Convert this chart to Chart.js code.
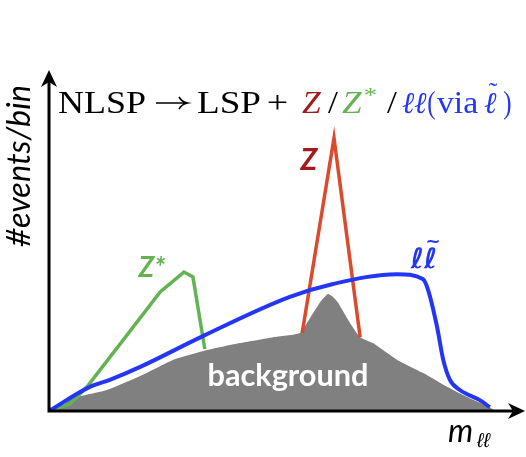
<!DOCTYPE html>
<html>
<head>
<meta charset="utf-8">
<script src="https://cdn.jsdelivr.net/npm/chart.js"></script>
<style>
  body { margin: 0; background: #fff; }
  canvas { display: block; }
</style>
</head>
<body>
<canvas id="chart" width="526" height="457"></canvas>
<script>
// schematic shapes, x = m_ll (arbitrary units 0-100), y = events/bin (0-100)
const bgX = [0, 2.3, 5.1, 12.2, 19.2, 26.1, 33.3, 40.2, 47.2, 52.8, 55.6, 57.1, 58.7, 59.8, 60.8, 63.4, 65.5, 68.2, 73.3, 78.7, 83.8, 88, 92.8, 93.9];
const bgY = [0, 1.1, 3.7, 6, 10, 14.6, 17.4, 19.4, 21.1, 22.3, 28, 31.1, 33.4, 32.6, 31.1, 25.1, 21.1, 19.4, 14.6, 10.9, 6.9, 4, 1.1, 0];

const zStarX = [0, 4.4, 8, 17.1, 23.4, 28.4, 30.3, 32.8];
const zStarY = [0, 2, 6.9, 22.9, 34, 39.7, 38.3, 17.7];

const zX = [53.3, 60, 65.5];
const zY = [22.3, 78, 21.1];

const llX = [0, 8.6, 12.8, 19.2, 32.4, 50.7, 59.8, 73.3, 78.7, 79.8, 81.7, 83, 84.4, 86.5, 90.7, 92.8];
const llY = [0, 6.9, 8.9, 12.6, 21.4, 32.6, 36.3, 39.1, 37.7, 34.6, 24, 14.6, 8.9, 6, 3.1, 1.1];

const RED = '#a31a1a';
const RED_LINE = '#dc4a2e';
const GREEN = '#63b352';
const BLUE = '#2336f5';

const pts = (xs, ys) => xs.map((v, i) => ({ x: v, y: ys[i] }));

// fit a label to a given width by scaling the font size
function fitFont(ctx, text, style, family, width) {
  ctx.font = `${style} 20px ${family}`;
  const size = 20 * width / ctx.measureText(text).width;
  return `${style} ${size.toFixed(1)}px ${family}`;
}

// draw text so its ink spans x0..x1 (stretched horizontally only)
function spanText(ctx, text, x0, x1, baseY) {
  const m = ctx.measureText(text);
  const ink = m.actualBoundingBoxLeft + m.actualBoundingBoxRight;
  ctx.save();
  ctx.translate(x0, baseY);
  ctx.scale((x1 - x0) / ink, 1);
  ctx.fillText(text, m.actualBoundingBoxLeft, 0);
  ctx.restore();
}

function arrowHead(ctx, tx, ty, dx, dy) {
  // stealth style head pointing along (dx, dy)
  const len = 17, half = 8, notch = 5;
  const px = -dy, py = dx;
  ctx.beginPath();
  ctx.moveTo(tx, ty);
  ctx.lineTo(tx - dx * len + px * half, ty - dy * len + py * half);
  ctx.lineTo(tx - dx * (len - notch), ty - dy * (len - notch));
  ctx.lineTo(tx - dx * len - px * half, ty - dy * len - py * half);
  ctx.closePath();
  ctx.fill();
}

const decor = {
  id: 'decor',
  afterDraw(chart) {
    const { ctx, scales: { x, y } } = chart;
    const ox = x.getPixelForValue(0);
    const oy = y.getPixelForValue(0);
    ctx.save();

    // axes with arrows
    ctx.strokeStyle = '#000';
    ctx.fillStyle = '#000';
    ctx.lineWidth = 3;
    ctx.beginPath();
    ctx.moveTo(ox, oy + 1.5);
    ctx.lineTo(ox, 82);
    ctx.moveTo(ox - 1.5, oy);
    ctx.lineTo(514, oy);
    ctx.stroke();
    arrowHead(ctx, ox, 70, 0, -1);
    arrowHead(ctx, 525, oy, 1, 0);

    // title, pieces placed like the latex original
    const serif = '"Liberation Serif", "DejaVu Serif", serif';
    const ellFont = 'italic 30px "DejaVu Serif", serif';
    const base = 113;
    const parts = [
      { t: 'NLSP', x0: 58, x1: 145, c: '#000', f: `32px ${serif}` },
      { t: 'LSP', x0: 197, x1: 260, c: '#000', f: `32px ${serif}` },
      { t: '+', x0: 268, x1: 287, c: '#000', f: `32px ${serif}` },
      { t: 'Z', x0: 302, x1: 322, c: RED, f: `italic 32px ${serif}` },
      { t: '/', x0: 328, x1: 338, c: '#000', f: `32px ${serif}` },
      { t: 'Z', x0: 342, x1: 363, c: GREEN, f: `italic 32px ${serif}` },
      { t: '*', x0: 365, x1: 376, c: GREEN, f: `22px ${serif}`, dy: -11 },
      { t: '/', x0: 387, x1: 397, c: '#000', f: `32px ${serif}` },
      { t: '\u2113\u2113', x0: 402, x1: 427, c: BLUE, f: ellFont },
      { t: '(', x0: 428, x1: 435, c: BLUE, f: `32px ${serif}` },
      { t: 'via', x0: 437, x1: 478, c: BLUE, f: `32px ${serif}` },
      { t: '\u2113', x0: 484, x1: 497, c: BLUE, f: ellFont },
      { t: ')', x0: 504, x1: 511, c: BLUE, f: `32px ${serif}` }
    ];
    ctx.textBaseline = 'alphabetic';
    ctx.textAlign = 'left';
    parts.forEach(p => {
      ctx.font = p.f;
      ctx.fillStyle = p.c;
      spanText(ctx, p.t, p.x0, p.x1, base + (p.dy || 0));
    });
    // tilde over the last ell
    ctx.fillStyle = BLUE;
    ctx.font = `26px ${serif}`;
    ctx.textAlign = 'center';
    ctx.fillText('\u02dc', 493, base - 13);
    ctx.textAlign = 'left';

    // latex style right arrow
    const ay = base - 10;
    ctx.strokeStyle = '#000';
    ctx.lineWidth = 1.6;
    ctx.beginPath();
    ctx.moveTo(156, ay);
    ctx.lineTo(187, ay);
    ctx.moveTo(179, ay - 6);
    ctx.quadraticCurveTo(182, ay - 1, 187.5, ay);
    ctx.quadraticCurveTo(182, ay + 1, 179, ay + 6);
    ctx.stroke();

    // y axis title
    ctx.save();
    ctx.translate(20, 166);
    ctx.rotate(-Math.PI / 2);
    ctx.textAlign = 'center';
    ctx.textBaseline = 'middle';
    ctx.fillStyle = '#000';
    ctx.font = fitFont(ctx, '#events/bin', 'italic', 'Lato, "DejaVu Sans", sans-serif', 162);
    ctx.fillText('#events/bin', 0, 0);
    ctx.restore();

    // x axis title m_ll
    ctx.fillStyle = '#000';
    ctx.textAlign = 'left';
    ctx.font = 'italic 32px Lato, "DejaVu Sans", sans-serif';
    ctx.fillText('m', 448, 442);
    ctx.font = 'italic 20px "Liberation Sans", "DejaVu Sans", sans-serif';
    ctx.fillText('\u2113\u2113', 477, 447);

    // series labels
    ctx.textAlign = 'center';
    ctx.textBaseline = 'alphabetic';
    ctx.fillStyle = GREEN;
    ctx.font = 'bold italic 28px Lato, "DejaVu Sans", sans-serif';
    ctx.fillText('Z*', 152, 277);

    ctx.fillStyle = RED;
    ctx.font = 'bold italic 30px Lato, "DejaVu Sans", sans-serif';
    ctx.fillText('Z', 309, 170);

    ctx.fillStyle = BLUE;
    ctx.font = 'bold italic 28px "DejaVu Sans", sans-serif';
    ctx.fillText('\u2113\u2113', 424, 268);
    ctx.font = 'bold 18px "DejaVu Sans", sans-serif';
    ctx.fillText('~', 433, 247);

    ctx.fillStyle = '#fff';
    ctx.textBaseline = 'middle';
    ctx.font = fitFont(ctx, 'background', 'bold', 'Lato, "DejaVu Sans", sans-serif', 161);
    ctx.fillText('background', 288, 376);

    ctx.restore();
  }
};

new Chart(document.getElementById('chart'), {
  type: 'line',
  data: {
    datasets: [
      { label: 'background', data: pts(bgX, bgY), fill: 'origin', backgroundColor: '#808080',
        borderWidth: 0, pointRadius: 0, tension: 0.15, order: 4 },
      { label: 'Z*', data: pts(zStarX, zStarY), borderColor: GREEN, borderWidth: 3.5,
        pointRadius: 0, tension: 0, fill: false, order: 3 },
      { label: 'Z', data: pts(zX, zY), borderColor: RED_LINE, borderWidth: 3.5,
        pointRadius: 0, tension: 0, fill: false, order: 2 },
      { label: 'll', data: pts(llX, llY), borderColor: BLUE, borderWidth: 4,
        pointRadius: 0, cubicInterpolationMode: 'monotone', fill: false, order: 1 }
    ]
  },
  options: {
    responsive: false,
    animation: false,
    layout: { padding: { left: 49, right: 2, top: 61, bottom: 46 } },
    scales: {
      x: { type: 'linear', min: 0, max: 100, display: false },
      y: { type: 'linear', min: 0, max: 100, display: false }
    },
    plugins: { legend: { display: false }, tooltip: { enabled: false } }
  },
  plugins: [decor]
});
</script>
</body>
</html>
